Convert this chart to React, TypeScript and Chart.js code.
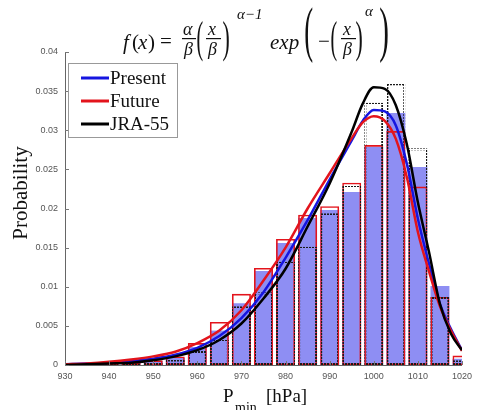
import React, { useEffect, useRef } from 'react';
import { Chart, registerables } from 'chart.js';

Chart.register(...registerables);

// Histogram bins (hPa) and probabilities
const bins = [930, 935, 940, 945, 950, 955, 960, 965, 970, 975, 980, 985, 990, 995, 1000, 1005, 1010, 1015, 1020];
const presentHist = [0, 0.0001, 0.0001, 0.0003, 0.0005, 0.0009, 0.0023, 0.0044, 0.0079, 0.012, 0.0156, 0.0188, 0.0198, 0.0221, 0.0279, 0.0322, 0.0253, 0.0101, 0.0008];
const futureHist = [0, 0.0001, 0.0002, 0.0003, 0.0006, 0.0011, 0.0028, 0.0055, 0.0091, 0.0124, 0.0161, 0.0192, 0.0203, 0.0233, 0.0281, 0.0299, 0.0228, 0.0087, 0.0012];
const jraHist = [0, 0, 0.0001, 0.0002, 0.0004, 0.0007, 0.0018, 0.0032, 0.0075, 0.0093, 0.0132, 0.0151, 0.0194, 0.023, 0.0335, 0.036, 0.0277, 0.0087, 0.0006];

// Fitted curves
const curveX = [930, 935, 940, 945, 950, 955, 960, 965, 970, 975, 980, 985, 990, 995, 997.5, 1000, 1002.5, 1005, 1007.5, 1010, 1012.5, 1015, 1017.5, 1020];
const presentFit = [0.0001, 0.0002, 0.0003, 0.0005, 0.0008, 0.0013, 0.0022, 0.0037, 0.006, 0.0093, 0.0137, 0.0185, 0.0237, 0.0287, 0.0312, 0.0326, 0.0324, 0.0306, 0.0257, 0.0187, 0.013, 0.0078, 0.0046, 0.0019];
const futureFit = [0.0001, 0.0002, 0.0004, 0.0007, 0.0011, 0.0017, 0.0028, 0.0044, 0.007, 0.0108, 0.015, 0.02, 0.0245, 0.029, 0.031, 0.0318, 0.0312, 0.0289, 0.024, 0.017, 0.012, 0.0075, 0.0044, 0.0018];
const jraFit = [0.0, 0.0001, 0.0002, 0.0003, 0.0006, 0.0011, 0.0019, 0.0032, 0.0053, 0.0085, 0.0123, 0.0177, 0.0232, 0.0298, 0.0334, 0.0355, 0.0353, 0.0332, 0.0282, 0.0208, 0.0145, 0.0078, 0.004, 0.0019];

const seriesNames = ['Present', 'Future', 'JRA-55'];
const seriesColors = ['#1515e0', '#e3141c', '#000000'];

const SERIF = '"Liberation Serif", "Times New Roman", serif';

export default function App() {
  const ref = useRef<HTMLCanvasElement>(null);

  useEffect(() => {
    const canvas = ref.current!;
    const ctx = canvas.getContext('2d')!;
    const pc = document.createElement('canvas');
    pc.width = 3;
    pc.height = 3;
    const pg = pc.getContext('2d')!;
    pg.fillStyle = '#1a1a1a';
    pg.fillRect(0, 0, 2, 2);
    const dotted = ctx.createPattern(pc, 'repeat') as CanvasPattern;

    const pts = (xs: number[], ys: number[]) => xs.map((x, i) => ({ x, y: ys[i] }));

    const overlay = {
      id: 'overlay',
      afterDraw(chart: any) {
        const c = chart.ctx as CanvasRenderingContext2D;
        const xs = chart.scales.x;
        const ys = chart.scales.y;
        const area = chart.chartArea;
        c.save();
        // inward ticks
        c.strokeStyle = '#777';
        c.lineWidth = 1;
        c.beginPath();
        ys.ticks.forEach((t: any) => {
          const y = Math.round(ys.getPixelForValue(t.value)) + 0.5;
          c.moveTo(area.left, y);
          c.lineTo(area.left + 4, y);
        });
        xs.ticks.forEach((t: any) => {
          const x = Math.round(xs.getPixelForValue(t.value)) + 0.5;
          c.moveTo(x, area.bottom);
          c.lineTo(x, area.bottom - 4);
        });
        c.stroke();

        // legend
        c.fillStyle = '#fff';
        c.fillRect(68.5, 63.5, 109, 74);
        c.strokeStyle = '#999';
        c.strokeRect(68.5, 63.5, 109, 74);
        seriesNames.forEach((name, i) => {
          const yl = 78 + i * 23;
          c.strokeStyle = seriesColors[i];
          c.lineWidth = 3;
          c.beginPath();
          c.moveTo(81, yl);
          c.lineTo(109, yl);
          c.stroke();
          c.fillStyle = '#111';
          c.font = `19px ${SERIF}`;
          c.textAlign = 'left';
          c.textBaseline = 'alphabetic';
          c.fillText(name, 110, yl + 6);
        });

        // axis titles
        c.fillStyle = '#111';
        c.font = `19px ${SERIF}`;
        c.fillText('P', 223, 402);
        c.font = `14px ${SERIF}`;
        c.fillText('min', 235, 412);
        c.font = `19px ${SERIF}`;
        c.fillText('[hPa]', 266, 402);

        c.save();
        c.translate(27, 193);
        c.rotate(-Math.PI / 2);
        c.textAlign = 'center';
        c.font = `21px ${SERIF}`;
        c.fillText('Probability', 0, 0);
        c.restore();

        // formula
        const t = (s: string, x: number, y: number, size: number, italic: boolean) => {
          c.font = `${italic ? 'italic ' : ''}${size}px ${SERIF}`;
          c.textAlign = 'left';
          c.fillText(s, x, y);
        };
        const bar = (x1: number, x2: number, y: number) => {
          c.fillRect(x1, y, x2 - x1, 1.2);
        };
        const big = (ch: string, x: number, top: number, bottom: number, w: number) => {
          c.save();
          c.font = `40px ${SERIF}`;
          const m = c.measureText(ch);
          const asc = m.actualBoundingBoxAscent;
          const desc = m.actualBoundingBoxDescent;
          const bw = m.actualBoundingBoxLeft + m.actualBoundingBoxRight;
          c.translate(x, top);
          c.scale(w / bw, (bottom - top) / (asc + desc));
          c.textAlign = 'left';
          c.fillText(ch, m.actualBoundingBoxLeft, asc);
          c.restore();
        };
        c.fillStyle = '#111';
        t('f', 123, 49, 21, true);
        t('(', 132, 49, 21, false);
        t('x', 138, 49, 21, true);
        t(')', 148, 49, 21, false);
        t('=', 160, 48, 21, false);
        t('α', 183, 35, 18, true);
        bar(182, 196, 38);
        t('β', 184, 55, 18, true);
        big('(', 197, 21, 62, 6);
        t('x', 208, 35, 18, true);
        bar(206, 221, 38);
        t('β', 208, 55, 18, true);
        big(')', 223, 21, 62, 6);
        t('α−1', 237, 19, 15, true);
        t('exp', 270, 49, 21, true);
        big('(', 305, 8, 64, 8);
        t('−', 318, 48, 21, false);
        big('(', 331, 21, 62, 6);
        t('x', 343, 35, 18, true);
        bar(341, 356, 38);
        t('β', 343, 55, 18, true);
        big(')', 356, 21, 62, 6);
        t('α', 365, 16, 15, true);
        big(')', 380, 8, 64, 8);
        c.restore();
      },
    };

    const barCommon = {
      grouped: false,
      barPercentage: 0.86,
      categoryPercentage: 1,
      clip: 0,
      borderSkipped: false,
    };

    const chart = new Chart(ctx, {
      type: 'bar',
      data: {
        datasets: [
          {
            type: 'line',
            label: seriesNames[2],
            data: pts(curveX, jraFit),
            borderColor: seriesColors[2],
            borderWidth: 2.5,
            pointRadius: 0,
            cubicInterpolationMode: 'monotone',
            fill: false,
            order: 0,
          } as any,
          {
            type: 'line',
            label: seriesNames[1],
            data: pts(curveX, futureFit),
            borderColor: seriesColors[1],
            borderWidth: 2.5,
            pointRadius: 0,
            cubicInterpolationMode: 'monotone',
            fill: false,
            order: 1,
          } as any,
          {
            type: 'line',
            label: seriesNames[0],
            data: pts(curveX, presentFit),
            borderColor: seriesColors[0],
            borderWidth: 2.5,
            pointRadius: 0,
            cubicInterpolationMode: 'monotone',
            fill: false,
            order: 2,
          } as any,
          {
            ...barCommon,
            label: seriesNames[2] + ' histogram',
            data: pts(bins, jraHist),
            backgroundColor: 'rgba(0,0,0,0)',
            borderColor: dotted,
            borderWidth: 2,
            order: 4,
          } as any,
          {
            ...barCommon,
            label: seriesNames[1] + ' histogram',
            data: pts(bins, futureHist),
            backgroundColor: 'rgba(0,0,0,0)',
            borderColor: '#e3141c',
            borderWidth: 1.6,
            order: 5,
          } as any,
          {
            ...barCommon,
            label: seriesNames[0] + ' histogram',
            data: pts(bins, presentHist),
            backgroundColor: '#8e8ef3',
            borderWidth: 0,
            order: 6,
          } as any,
        ],
      },
      options: {
        responsive: false,
        animation: false,
        layout: { padding: { left: 0, top: 52, right: 11, bottom: 0 } },
        plugins: { legend: { display: false }, tooltip: { enabled: false } },
        scales: {
          x: {
            type: 'linear',
            min: 930,
            max: 1020,
            offset: false,
            afterFit: (s: any) => {
              s.height = 45;
            },
            ticks: {
              stepSize: 10,
              autoSkip: false,
              maxRotation: 0,
              padding: 6,
              color: '#555',
              font: { family: '"Liberation Sans", Arial, sans-serif', size: 9 },
              callback: (v: any) => String(Math.round(Number(v))),
            },
            grid: { display: false, drawTicks: false },
            border: { display: true, color: '#666', width: 1 },
          },
          y: {
            type: 'linear',
            min: 0,
            max: 0.04,
            afterFit: (s: any) => {
              s.width = 65;
            },
            ticks: {
              stepSize: 0.005,
              padding: 7,
              color: '#555',
              font: { family: '"Liberation Sans", Arial, sans-serif', size: 9 },
              callback: (v: any) => String(Number(Number(v).toFixed(3))),
            },
            grid: { display: false, drawTicks: false },
            border: { display: true, color: '#666', width: 1 },
          },
        },
      } as any,
      plugins: [overlay],
    });
    return () => chart.destroy();
  }, []);

  return (
    <div style={{ position: 'fixed', left: 0, top: 0, width: 478, height: 410, background: '#fff' }}>
      <canvas ref={ref} width={478} height={410} style={{ width: 478, height: 410, display: 'block' }} />
    </div>
  );
}
